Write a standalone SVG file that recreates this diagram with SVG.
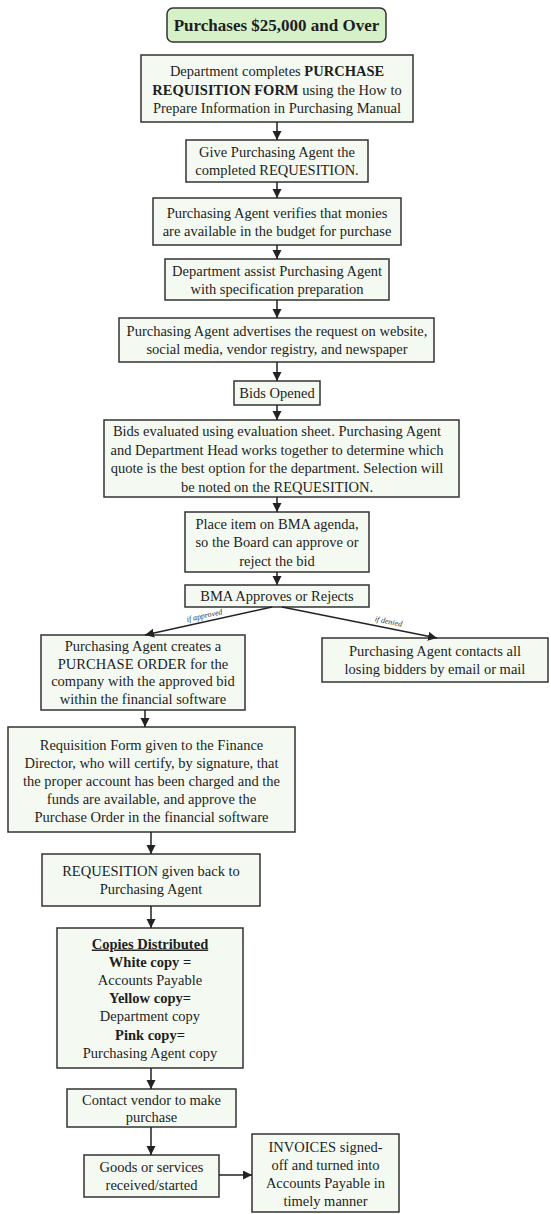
<svg xmlns="http://www.w3.org/2000/svg" width="551" height="1214" viewBox="0 0 551 1214">
<style>
.bg{fill:#ffffff}
.box{fill:#f4faf2;stroke:#333333;stroke-width:1.5}
.title{fill:#d6f0c8;stroke:#333333;stroke-width:1.5}
text{font-family:"Liberation Serif","Times New Roman",serif;font-size:14.5px;fill:#1e1e1e;text-anchor:middle}
.b{font-weight:bold}
.tt{font-size:17px;font-weight:bold}
.lbl{font-size:8px;font-style:italic;fill:#333333}
.c line{stroke:#222222;stroke-width:1.5;marker-end:url(#ah)}
</style>
<defs>
<marker id="ah" markerUnits="userSpaceOnUse" markerWidth="10" markerHeight="10" refX="9" refY="4.5" orient="auto">
<path d="M0,0 L9,4.5 L0,9 z" fill="#222222"/>
</marker>
</defs>
<rect class="bg" x="0" y="0" width="551" height="1214"/>

<g id="title">
<rect class="title" x="167" y="8" width="219" height="34" rx="6"/>
<text class="tt" x="276.5" y="31">Purchases $25,000 and Over</text>
</g>

<g id="n1">
<rect class="box" x="141" y="55" width="272" height="67"/>
<text x="277" y="76">Department completes <tspan class="b">PURCHASE</tspan></text>
<text x="277" y="94.5"><tspan class="b">REQUISITION FORM</tspan> using the How to</text>
<text x="277" y="113">Prepare Information in Purchasing Manual</text>
</g>

<g id="n2">
<rect class="box" x="186" y="140" width="182" height="42"/>
<text x="277" y="157">Give Purchasing Agent the</text>
<text x="277" y="175">completed REQUESITION.</text>
</g>

<g id="n3">
<rect class="box" x="153" y="198" width="248" height="47"/>
<text x="277" y="217.5">Purchasing Agent verifies that monies</text>
<text x="277" y="235.5">are available in the budget for purchase</text>
</g>

<g id="n4">
<rect class="box" x="165" y="259" width="224" height="41"/>
<text x="277" y="275.5">Department assist Purchasing Agent</text>
<text x="277" y="293.5">with specification preparation</text>
</g>

<g id="n5">
<rect class="box" x="119" y="318" width="315" height="44"/>
<text x="277" y="336">Purchasing Agent advertises the request on website,</text>
<text x="277" y="354">social media, vendor registry, and newspaper</text>
</g>

<g id="n6">
<rect class="box" x="234" y="381" width="86" height="24"/>
<text x="277" y="398">Bids Opened</text>
</g>

<g id="n7">
<rect class="box" x="104" y="420" width="355" height="77"/>
<text x="277" y="436">Bids evaluated using evaluation sheet. Purchasing Agent</text>
<text x="277" y="454.5">and Department Head works together to determine which</text>
<text x="277" y="473">quote is the best option for the department. Selection will</text>
<text x="277" y="491.5">be noted on the REQUESITION.</text>
</g>

<g id="n8">
<rect class="box" x="185" y="512" width="184" height="60"/>
<text x="277" y="528.5">Place item on BMA agenda,</text>
<text x="277" y="547">so the Board can approve or</text>
<text x="277" y="565.5">reject the bid</text>
</g>

<g id="n9">
<rect class="box" x="185" y="585" width="184" height="22"/>
<text x="277" y="601">BMA Approves or Rejects</text>
</g>

<g id="n10">
<rect class="box" x="41" y="635" width="204" height="75"/>
<text x="143" y="651">Purchasing Agent creates a</text>
<text x="143" y="668.5">PURCHASE ORDER for the</text>
<text x="143" y="686">company with the approved bid</text>
<text x="143" y="703.5">within the financial software</text>
</g>

<g id="n11">
<rect class="box" x="322" y="638" width="226" height="44"/>
<text x="435" y="656">Purchasing Agent contacts all</text>
<text x="435" y="674">losing bidders by email or mail</text>
</g>

<g id="n12">
<rect class="box" x="8" y="727" width="287" height="105"/>
<text x="151.5" y="750">Requisition Form given to the Finance</text>
<text x="151.5" y="768">Director, who will certify, by signature, that</text>
<text x="151.5" y="786">the proper account has been charged and the</text>
<text x="151.5" y="804">funds are available, and approve the</text>
<text x="151.5" y="822">Purchase Order in the financial software</text>
</g>

<g id="n13">
<rect class="box" x="42" y="854" width="218" height="52"/>
<text x="151" y="876">REQUESITION given back to</text>
<text x="151" y="894">Purchasing Agent</text>
</g>

<g id="n14">
<rect class="box" x="57" y="928" width="186" height="140"/>
<text x="150" y="948.5" class="b" text-decoration="underline">Copies Distributed</text>
<text x="150" y="966.5" class="b">White copy =</text>
<text x="150" y="985">Accounts Payable</text>
<text x="150" y="1003" class="b">Yellow copy=</text>
<text x="150" y="1021">Department copy</text>
<text x="150" y="1039.5" class="b">Pink copy=</text>
<text x="150" y="1057.5">Purchasing Agent copy</text>
</g>

<g id="n15">
<rect class="box" x="67" y="1089" width="169" height="38"/>
<text x="151.5" y="1104.5">Contact vendor to make</text>
<text x="151.5" y="1121.5">purchase</text>
</g>

<g id="n16">
<rect class="box" x="84" y="1155" width="135" height="42"/>
<text x="151.5" y="1172">Goods or services</text>
<text x="151.5" y="1190">received/started</text>
</g>

<g id="n17">
<rect class="box" x="252" y="1134" width="147" height="78"/>
<text x="325.5" y="1152">INVOICES signed-</text>
<text x="325.5" y="1170">off and turned into</text>
<text x="325.5" y="1188">Accounts Payable in</text>
<text x="325.5" y="1206">timely manner</text>
</g>

<g id="connectors" class="c">
<line x1="277" y1="122" x2="277" y2="140"/>
<line x1="277" y1="182" x2="277" y2="198"/>
<line x1="277" y1="245" x2="277" y2="259"/>
<line x1="277" y1="300" x2="277" y2="318"/>
<line x1="277" y1="362" x2="277" y2="381"/>
<line x1="277" y1="405" x2="277" y2="420"/>
<line x1="277" y1="497" x2="277" y2="512"/>
<line x1="277" y1="572" x2="277" y2="585"/>
<line x1="272" y1="607" x2="145" y2="635"/>
<line x1="282" y1="607" x2="437" y2="638"/>
<line x1="145" y1="710" x2="145" y2="727"/>
<line x1="151" y1="832" x2="151" y2="854"/>
<line x1="151" y1="906" x2="151" y2="928"/>
<line x1="151" y1="1068" x2="151" y2="1089"/>
<line x1="151" y1="1127" x2="151" y2="1155"/>
<line x1="219" y1="1175" x2="252" y2="1175"/>
<text class="lbl" x="205" y="618" transform="rotate(-12.4 205 618)">if approved</text>
<text class="lbl" x="388" y="624" transform="rotate(11.3 388 624)">if denied</text>
</g>
</svg>
